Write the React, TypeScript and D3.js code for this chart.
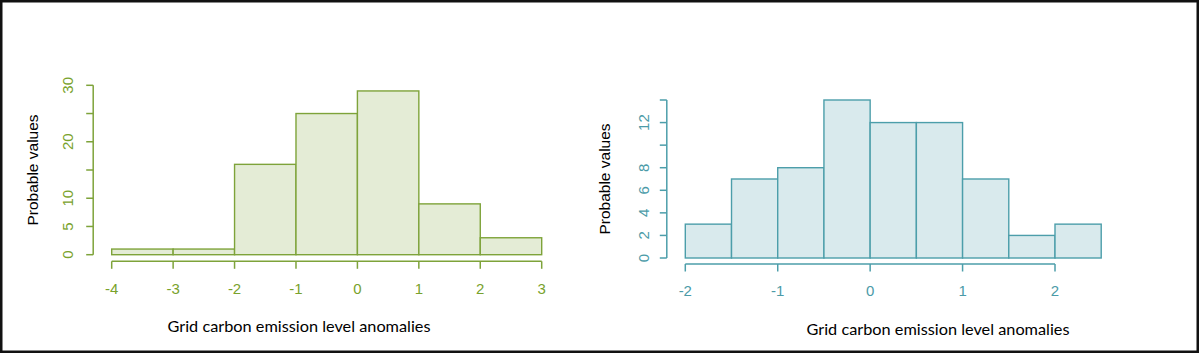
import React, { useEffect } from 'react'
import * as d3 from 'd3'

// left histogram: bins of width 1
const leftEdges = [-4, -3, -2, -1, 0, 1, 2, 3]
const leftCounts = [1, 1, 16, 25, 29, 9, 3]
const leftXTicks = [-4, -3, -2, -1, 0, 1, 2, 3]
const leftYTicks = [0, 5, 10, 15, 20, 25, 30]
const leftYLabels = [0, 5, 10, 20, 30]

// right histogram: bins of width 0.5
const rightEdges = [-2, -1.5, -1, -0.5, 0, 0.5, 1, 1.5, 2, 2.5]
const rightCounts = [3, 7, 8, 14, 12, 12, 7, 2, 3]
const rightXTicks = [-2, -1, 0, 1, 2]
const rightYTicks = [0, 2, 4, 6, 8, 10, 12, 14]
const rightYLabels = [0, 2, 4, 6, 8, 12]

const xTitle = 'Grid carbon emission level anomalies'
const yTitle = 'Probable values'

const TICK_FONT = "'Liberation Sans', Arial, sans-serif"
const TITLE_FONT = "Lato, 'Open Sans', sans-serif"

type HistProps = {
  edges: number[]
  counts: number[]
  xTicks: number[]
  yTicks: number[]
  yLabels: number[]
  xRange: [number, number]
  yRange: [number, number]
  xAxisY: number
  stroke: string
  fill: string
  text: string
  yLabelX: number
  yTitleX: number
  yTitleY: number
  xTitleX: number
  xTitleY: number
  tickLabelY: number
}

function Histogram(p: HistProps) {
  const x = d3.scaleLinear().domain([p.xTicks[0], p.xTicks[p.xTicks.length - 1]]).range(p.xRange)
  const y = d3.scaleLinear().domain([0, p.yTicks[p.yTicks.length - 1]]).range(p.yRange)
  const axisX = x(p.xTicks[0]) - 18.5
  const bins = p.counts.map((c, i) => ({ x0: p.edges[i], x1: p.edges[i + 1], c }))

  return (
    <g>
      {bins.map((b, i) => (
        <rect
          key={i}
          x={x(b.x0)}
          y={y(b.c)}
          width={x(b.x1) - x(b.x0)}
          height={y(0) - y(b.c)}
          fill={p.fill}
          stroke={p.stroke}
          strokeWidth={1.4}
        />
      ))}

      {/* y axis */}
      <line x1={axisX} x2={axisX} y1={y(0)} y2={y(p.yTicks[p.yTicks.length - 1])} stroke={p.stroke} strokeWidth={1.5} />
      {p.yTicks.map((t) => (
        <line key={t} x1={axisX - 7} x2={axisX} y1={y(t)} y2={y(t)} stroke={p.stroke} strokeWidth={1.5} />
      ))}
      {p.yLabels.map((t) => (
        <text
          key={t}
          transform={`translate(${p.yLabelX},${y(t)}) rotate(-90)`}
          textAnchor="middle"
          dominantBaseline="central"
          fill={p.text}
          fontSize={15}
          fontFamily={TICK_FONT}
        >
          {t}
        </text>
      ))}

      {/* x axis */}
      <line x1={x(p.xTicks[0])} x2={x(p.xTicks[p.xTicks.length - 1])} y1={p.xAxisY} y2={p.xAxisY} stroke={p.stroke} strokeWidth={1.5} />
      {p.xTicks.map((t) => (
        <line key={t} x1={x(t)} x2={x(t)} y1={p.xAxisY} y2={p.xAxisY + 7.5} stroke={p.stroke} strokeWidth={1.5} />
      ))}
      {p.xTicks.map((t) => (
        <text
          key={t}
          x={x(t)}
          y={p.tickLabelY}
          textAnchor="middle"
          dominantBaseline="central"
          fill={p.text}
          fontSize={15}
          fontFamily={TICK_FONT}
        >
          {t}
        </text>
      ))}

      <text
        transform={`translate(${p.yTitleX},${p.yTitleY}) rotate(-90)`}
        textAnchor="middle"
        dominantBaseline="central"
        fill="#000"
        fontSize={15.5}
        fontFamily={TICK_FONT}
      >
        {yTitle}
      </text>
      <text
        x={p.xTitleX}
        y={p.xTitleY}
        textAnchor="middle"
        fill="#000"
        fontSize={15}
        fontFamily={TITLE_FONT}
        textLength={263}
        lengthAdjust="spacingAndGlyphs"
      >
        {xTitle}
      </text>
    </g>
  )
}

export default function App() {
  useEffect(() => {
    document.body.style.margin = '0'
  }, [])

  return (
    <svg width={1200} height={354} style={{ display: 'block', background: '#fff' }}>
      <rect x={1.25} y={1.25} width={1196.5} height={350.5} fill="#fff" stroke="#111" strokeWidth={2.5} />
      <Histogram
        edges={leftEdges}
        counts={leftCounts}
        xTicks={leftXTicks}
        yTicks={leftYTicks}
        yLabels={leftYLabels}
        xRange={[111.7, 541.7]}
        yRange={[254.7, 85.3]}
        xAxisY={261.3}
        stroke="#7ea33a"
        fill="#e4ecd6"
        text="#79a22c"
        yLabelX={67}
        yTitleX={32}
        yTitleY={170}
        xTitleX={299}
        xTitleY={331.5}
        tickLabelY={288.5}
      />
      <Histogram
        edges={rightEdges}
        counts={rightCounts}
        xTicks={rightXTicks}
        yTicks={rightYTicks}
        yLabels={rightYLabels}
        xRange={[685.3, 1055]}
        yRange={[258, 100]}
        xAxisY={264}
        stroke="#4c9eaa"
        fill="#d9eaed"
        text="#4b9ba8"
        yLabelX={643.5}
        yTitleX={604}
        yTitleY={179}
        xTitleX={938}
        xTitleY={335}
        tickLabelY={290.5}
      />
    </svg>
  )
}
